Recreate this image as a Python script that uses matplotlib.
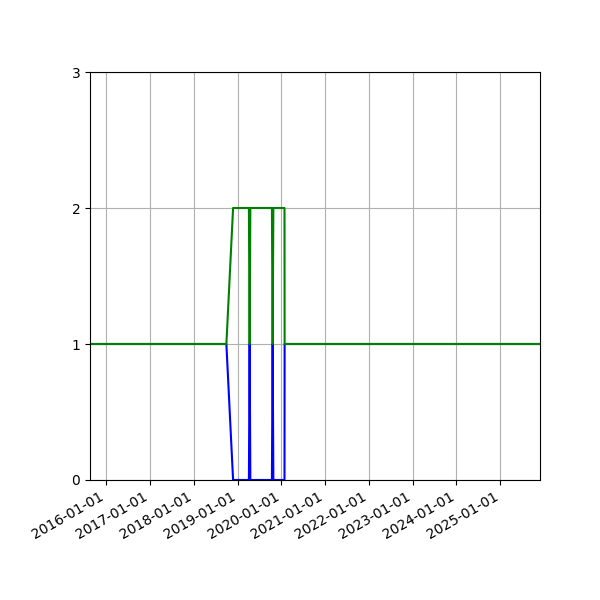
import matplotlib
matplotlib.use("Agg")
import matplotlib.pyplot as plt
import matplotlib.dates as mdates
import numpy as np
from datetime import datetime

dates = ["2015-08-18", "2018-09-29", "2018-11-24",
         "2019-04-05", "2019-04-11", "2019-04-17",
         "2019-10-14", "2019-10-20", "2019-10-26",
         "2020-01-27", "2020-01-28", "2025-11-28"]
blue = [1, 1, 0, 0, 1, 0, 0, 1, 0, 0, 1, 1]
green = [1, 1, 2, 2, 1, 2, 2, 1, 2, 2, 1, 1]

t = [datetime.strptime(d, "%Y-%m-%d") for d in dates]

fig, ax = plt.subplots(figsize=(6, 6), dpi=100)
ax.plot(t, blue, color="blue")
ax.plot(t, green, color="green")
ax.set_xlim(t[0], t[-1])
ax.set_ylim(0, 3)
ax.set_yticks([0, 1, 2, 3])
ax.xaxis.set_major_locator(mdates.YearLocator())
ax.xaxis.set_major_formatter(mdates.DateFormatter("%Y-%m-%d"))
ax.grid()
fig.autofmt_xdate()
fig.subplots_adjust(left=0.15, right=0.9, top=0.88, bottom=0.2)
fig.savefig("out.png")
